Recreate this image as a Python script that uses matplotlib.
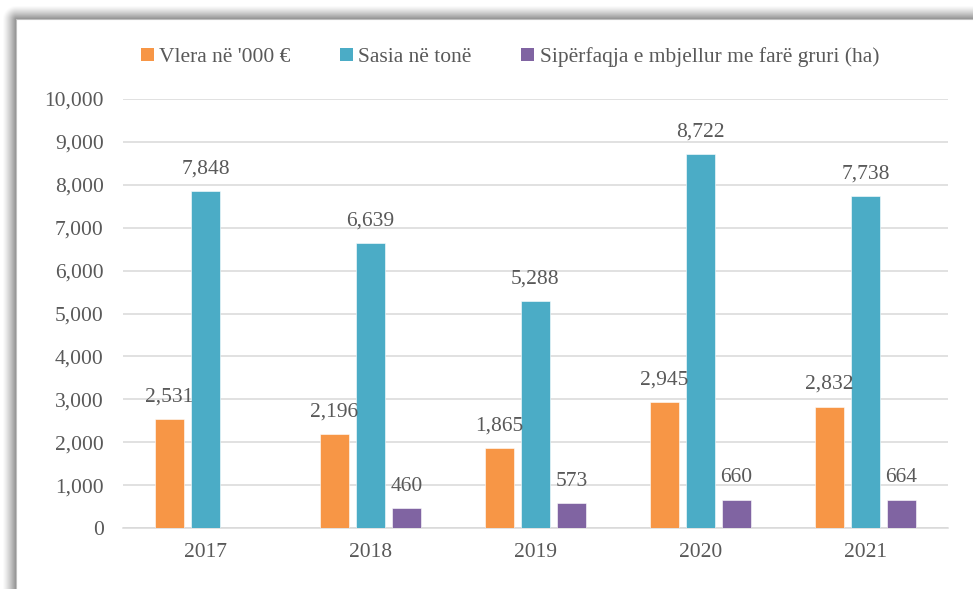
import numpy as np
import matplotlib
matplotlib.use("Agg")
import matplotlib.pyplot as plt
from matplotlib.patches import Patch
from matplotlib.ticker import FuncFormatter

years = ["2017", "2018", "2019", "2020", "2021"]
vlera = [2531, 2196, 1865, 2945, 2832]
sasia = [7848, 6639, 5288, 8722, 7738]
siperfaqja = [np.nan, 460, 573, 660, 664]
series_names = ["Vlera në '000 €", "Sasia në tonë", "Sipërfaqja e mbjellur me farë gruri (ha)"]
colors = ["#F79646", "#4BACC6", "#8064A2"]

FONT = "Liberation Serif"
TXT = "#595959"
FS = 15.5

W, H = 973, 589
fig = plt.figure(figsize=(W / 100, H / 100), dpi=100)
fig.patch.set_facecolor("white")

# shadow frame background
bg = fig.add_axes([0, 0, 1, 1], zorder=-5)
xx, yy = np.meshgrid(np.arange(W), np.arange(H))
bx, by = 16, 19
dx = np.clip(bx - xx, 0, None).astype(float)
dy = np.clip(by - yy, 0, None).astype(float)
d = np.sqrt(dx ** 2 + dy ** 2)
outside = (xx < bx) | (yy < by)
shade = np.where(outside, 0.45 * np.clip(1 - (d / 14.0), 0, 1) ** 1.3, 0.0)
img = 1 - shade
bg.imshow(np.dstack([img, img, img]), extent=[0, W, H, 0], aspect="auto", interpolation="bilinear")
bg.plot([bx, bx], [by, H], color="#BFBFBF", lw=0.8)
bg.plot([bx, W], [by, by], color="#BFBFBF", lw=0.8)
bg.set_xlim(0, W)
bg.set_ylim(H, 0)
bg.axis("off")

ax = fig.add_axes([123 / W, 1 - 528 / H, (948 - 123) / W, (528 - 99) / H])
ax.set_facecolor("none")

x = np.arange(len(years))
off = 36 / 165
bw = 29 / 165
for i, (vals, c) in enumerate(zip([vlera, sasia, siperfaqja], colors)):
    pos = x + (i - 1) * off
    ax.bar(pos, vals, width=bw, color=c, edgecolor="white", linewidth=0.4, zorder=3)
    for p, v in zip(pos, vals):
        if np.isnan(v):
            continue
        ax.annotate(f"{int(v):,}", (p, v), xytext=(0, 9), textcoords="offset points",
                    ha="center", va="bottom", fontsize=FS, family=FONT, color=TXT, zorder=4)

ax.set_xlim(-0.5, len(years) - 0.5)
ax.set_ylim(0, 10000)
ax.set_yticks(np.arange(0, 10001, 1000))
ax.yaxis.set_major_formatter(FuncFormatter(lambda v, p: f"{int(v):,}"))
ax.set_xticks(x)
ax.set_xticklabels(years)
ax.grid(axis="y", color="#D9D9D9", lw=1.1, zorder=0)
ax.set_axisbelow(True)
for s in ["top", "right", "left"]:
    ax.spines[s].set_visible(False)
ax.spines["bottom"].set_color("#D9D9D9")
ax.spines["bottom"].set_linewidth(1.1)
ax.tick_params(axis="both", length=0, labelsize=FS, labelcolor=TXT)
ax.tick_params(axis="y", pad=14)
ax.tick_params(axis="x", pad=11)
for lab in ax.get_xticklabels() + ax.get_yticklabels():
    lab.set_family(FONT)

handles = [Patch(facecolor=c, edgecolor="none") for c in colors]
fig.legend(handles, series_names, loc="center", bbox_to_anchor=(510 / W, 1 - 57 / H), ncol=3,
           frameon=False, handlelength=0.6, handleheight=0.6, handletextpad=0.25,
           columnspacing=2.3, prop={"family": FONT, "size": FS}, labelcolor=TXT)

fig.savefig("out.png", dpi=100, facecolor="white")
